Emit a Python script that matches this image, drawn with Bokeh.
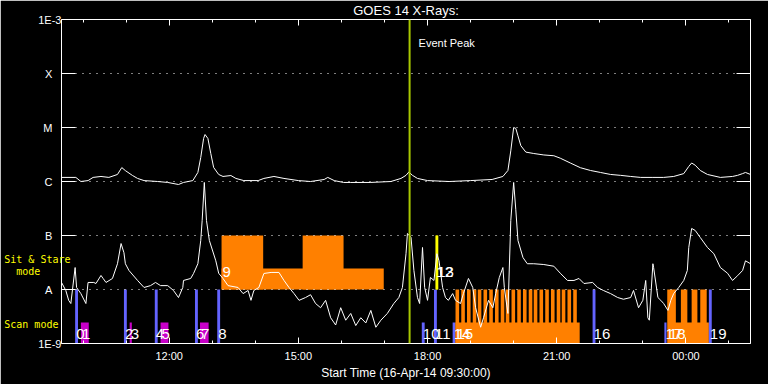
import pandas as pd
from bokeh.plotting import figure
from bokeh.models import Range1d, FixedTicker, LogAxis, DatetimeAxis, Span, Label, ColumnDataSource
from bokeh.core.properties import value
from bokeh.embed import file_html
from bokeh.resources import INLINE

START = pd.Timestamp("2014-04-16 09:30:00")
END = pd.Timestamp("2014-04-17 01:30:00")
EVENT_PEAK = pd.Timestamp("2014-04-16 17:35:00")

# ---- GOES 14 long channel (1-8 A), minutes after start, W m^-2
long_t = [0, 20, 27, 37, 44, 55, 66, 78, 84, 89,
          99, 106, 115, 134, 148, 163, 170, 183, 190, 194,
          198, 200, 204, 208, 212, 219, 225, 236, 243, 254,
          274, 282, 296, 310, 330, 347, 366, 371, 380, 393,
          403, 430, 459, 473, 480, 484, 489, 496, 510, 540,
          570, 600, 615, 622, 626, 630, 633, 636, 640, 647,
          658, 672, 686, 695, 709, 723, 737, 751, 765, 779,
          793, 807, 824, 839, 853, 867, 874, 878, 883, 890,
          900, 918, 935, 942, 949, 953, 960]
long_flux = [1.19e-6, 1.19e-6, 1.0e-6, 1.04e-6, 1.19e-6, 1.24e-6, 1.19e-6, 1.35e-6, 1.81e-6, 1.59e-6,
             1.29e-6, 1.14e-6, 1.04e-6, 1.0e-6, 0.96e-6, 0.88e-6, 0.96e-6, 1.04e-6, 1.47e-6, 2.78e-6,
             6.26e-6, 7.41e-6, 6.26e-6, 3.3e-6, 1.82e-6, 1.35e-6, 1.24e-6, 1.29e-6, 1.14e-6, 1.04e-6,
             1.04e-6, 1.14e-6, 1.24e-6, 1.14e-6, 1.04e-6, 1.0e-6, 1.09e-6, 1.19e-6, 1.04e-6, 0.96e-6,
             0.96e-6, 0.96e-6, 1.0e-6, 1.14e-6, 1.3e-6, 1.5e-6, 1.3e-6, 1.14e-6, 1.04e-6, 1.0e-6,
             1.04e-6, 1.09e-6, 1.24e-6, 1.6e-6, 3.7e-6, 1.0e-5, 9.6e-6, 7.0e-6, 4.6e-6, 3.5e-6,
             3.3e-6, 3.1e-6, 3.0e-6, 2.7e-6, 2.2e-6, 1.8e-6, 1.6e-6, 1.47e-6, 1.35e-6, 1.3e-6,
             1.24e-6, 1.19e-6, 1.19e-6, 1.19e-6, 1.24e-6, 1.4e-6, 1.9e-6, 2.2e-6, 2.0e-6, 1.6e-6,
             1.35e-6, 1.19e-6, 1.24e-6, 1.3e-6, 1.4e-6, 1.47e-6, 1.35e-6]

# ---- GOES 14 short channel (0.5-4 A), minutes after start, W m^-2
short_t = [0, 6, 10, 13, 19, 21, 27, 34, 37, 45,
           48, 55, 58, 62, 71, 78, 83, 87, 89, 94,
           106, 115, 124, 131, 138, 148, 156, 163, 169, 170,
           180, 184, 190, 194, 196, 199, 202, 206, 215, 219,
           225, 232, 246, 253, 260, 264, 268, 275, 282, 292,
           303, 310, 317, 324, 331, 340, 347, 354, 361, 368,
           375, 382, 389, 396, 403, 410, 417, 424, 431, 438,
           445, 454, 463, 470, 475, 480, 482, 487, 491, 496,
           499, 503, 506, 510, 514, 519, 523, 526, 531, 535,
           539, 545, 549, 556, 560, 567, 573, 577, 584, 588,
           595, 601, 605, 610, 615, 617, 622, 626, 630, 633,
           636, 643, 649, 658, 672, 686, 695, 705, 714, 721,
           728, 740, 747, 755, 765, 775, 783, 793, 797, 804,
           810, 814, 817, 819, 824, 825, 831, 835, 839, 845,
           849, 853, 860, 867, 872, 874, 878, 883, 890, 900,
           909, 918, 928, 935, 942, 949, 953, 960]
short_flux = [1.35e-8, 9.6e-9, 6.3e-9, 5.5e-9, 2.55e-8, 1.09e-8, 8.4e-9, 5.5e-9, 1.35e-8, 1.35e-8,
              1.29e-8, 1.82e-8, 1.6e-8, 1.35e-8, 1.6e-8, 3.0e-8, 7.1e-8, 4.8e-8, 3.0e-8, 2.25e-8,
              1.47e-8, 1.09e-8, 1.18e-8, 1.35e-8, 1.18e-8, 1.18e-8, 9.6e-9, 7.1e-9, 1.09e-8, 1.47e-8,
              1.6e-8, 1.98e-8, 3.0e-8, 8.1e-8, 1.9e-7, 9.6e-7, 1.9e-7, 8.1e-8, 3.4e-8, 2.0e-8,
              1.6e-8, 1.18e-8, 1.09e-8, 8.4e-9, 9.6e-9, 6.3e-9, 9.6e-9, 1.09e-8, 1.98e-8, 2.07e-8,
              2.07e-8, 1.47e-8, 1.09e-8, 8.4e-9, 6.3e-9, 7.1e-9, 8.0e-9, 5.5e-9, 4.6e-9, 6.3e-9,
              3.0e-9, 2.2e-9, 4.6e-9, 2.7e-9, 3.6e-9, 2.15e-9, 3.0e-9, 2.4e-9, 4.1e-9, 2.0e-9,
              2.7e-9, 3.6e-9, 5.5e-9, 7.1e-9, 1.09e-8, 4.6e-8, 1.09e-7, 9.2e-8, 2.25e-8, 7.1e-9,
              5.5e-9, 6.0e-8, 1.09e-8, 6.3e-9, 1.67e-8, 1.47e-8, 4.6e-8, 3.4e-8, 1.09e-8, 7.1e-9,
              6.3e-9, 8.4e-9, 6.3e-9, 5.5e-9, 8.4e-9, 1.6e-8, 1.09e-8, 4.6e-9, 2.0e-9, 3.0e-9,
              6.3e-9, 4.6e-9, 8.4e-9, 1.67e-8, 2.55e-8, 1.09e-8, 3.6e-9, 1.9e-7, 9.6e-7, 3.0e-7,
              8.1e-8, 3.9e-8, 3.0e-8, 3.0e-8, 2.9e-8, 2.7e-8, 2.0e-8, 1.47e-8, 1.47e-8, 1.6e-8,
              1.29e-8, 1.35e-8, 1.09e-8, 9.6e-9, 8.4e-9, 7.1e-9, 6.6e-9, 7.1e-9, 9.6e-9, 4.6e-9,
              6.3e-9, 1.47e-8, 3.0e-9, 2.7e-9, 3.0e-8, 2.55e-8, 7.1e-9, 6.3e-9, 5.5e-9, 4.1e-9,
              6.3e-9, 8.4e-9, 1.09e-8, 1.47e-8, 2.25e-8, 6.0e-8, 1.35e-7, 1.24e-7, 9.2e-8, 6.0e-8,
              4.6e-8, 2.55e-8, 2.0e-8, 1.47e-8, 1.8e-8, 2.25e-8, 3.4e-8, 3.0e-8]

# ---- GOES class levels / y tick labels
goes_levels = [1e-9, 1e-8, 1e-7, 1e-6, 1e-5, 1e-4, 1e-3]
goes_labels = ["1E-9", "A", "B", "C", "M", "X", "1E-3"]

# ---- instrument mode captions on the left margin (flux level of each line)
mode_levels = [3.6e-8, 2.15e-8, 2.25e-9]
mode_labels = ["Sit & Stare", "  mode", "Scan mode"]

# ---- x ticks
x_major_times = ["2014-04-16 12:00", "2014-04-16 15:00", "2014-04-16 18:00",
                 "2014-04-16 21:00", "2014-04-17 00:00"]
x_major_labels = ["12:00", "15:00", "18:00", "21:00", "00:00"]
x_minor_times = ["2014-04-16 10:00", "2014-04-16 11:00", "2014-04-16 13:00", "2014-04-16 14:00",
                 "2014-04-16 16:00", "2014-04-16 17:00", "2014-04-16 19:00", "2014-04-16 20:00",
                 "2014-04-16 22:00", "2014-04-16 23:00", "2014-04-17 01:00"]

# ---- observations (minutes after start)
obs_id = list(range(20))
obs_start = [19, 27, 87, 95, 130, 138, 186, 193, 217, 223, 502, 519, 521, 522, 545, 549, 740, 840, 845, 902]
obs_end = [23, 38, 91, 98, 134, 149, 190, 205, 221, 449, 506, 523, 524, 525, 549, 722, 744, 843, 902, 906]
obs_mode = ["scan", "scan", "scan", "scan", "scan", "scan", "scan", "scan", "scan", "sit",
            "scan", "scan", "sit", "sit", "scan", "scan", "scan", "scan", "scan", "scan"]
obs_height = ["full", "part", "full", "part", "full", "part", "full", "part", "full", "part",
              "part", "full", "full", "full", "part", "part", "full", "part", "part", "full"]
obs_class = ["blue", "magenta", "blue", "magenta", "blue", "magenta", "blue", "magenta", "blue", "orange",
             "blue", "blue", "yellow", "yellow", "blue", "orange", "blue", "blue", "orange", "blue"]

# full-height sub-intervals inside long observations (minutes after start)
burst_obs = [9, 9,
             15, 15, 15, 15, 15, 15, 15, 15, 15, 15, 15, 15, 15, 15, 15, 15, 15, 15, 15, 15, 15, 15,
             18, 18, 18, 18]
burst_start = [223, 336,
               549, 557, 565, 573, 580, 588, 596, 604, 612, 619, 627, 635, 643, 651, 658, 666,
               674, 682, 690, 697, 705, 713,
               844, 863, 878, 890]
burst_end = [281, 393,
             554, 562, 570, 578, 585, 593, 601, 609, 617, 624, 632, 640, 648, 656, 663, 671,
             679, 687, 695, 702, 710, 718,
             856, 872, 886, 899]

# ---------------------------------------------------------------- styling / layout
PALETTE = {"blue": "#6464ff", "magenta": "#c800c8", "orange": "#ff8000", "yellow": "#ffff00"}
BAND = {"scan": (1e-9, 1e-8), "sit": (1e-8, 1e-7)}
PART = 0.39           # partial bars reach this fraction of their decade
LABEL_Y = {"scan": 1.5e-9, "sit": 2.15e-8}
FONT = "Liberation Sans"
NBSP = "\u00a0"


def ms(ts):
    return pd.Timestamp(ts).value / 1e6


def after(minutes):
    return [ms(START + pd.Timedelta(minutes=m)) for m in minutes]


def top_of(mode, height):
    lo, hi = BAND[mode]
    return hi if height == "full" else lo * 10 ** PART


p = figure(width=768, height=384, x_axis_type="datetime", y_axis_type="log",
           x_range=Range1d(ms(START), ms(END)), y_range=Range1d(1e-9, 1e-3),
           output_backend="svg", toolbar_location=None,
           min_border_left=61, min_border_right=18, min_border_top=19, min_border_bottom=41,
           background_fill_color="black", border_fill_color="black", outline_line_color=None)

# title
p.title.text = "GOES 14 X-Rays:"
p.title.align = "center"
p.title.vertical_align = "middle"
p.title.text_color = "white"
p.title.text_font = FONT
p.title.text_font_size = "13px"
p.title.text_font_style = "normal"
p.title.standoff = 2

# bars
bar_src = ColumnDataSource(dict(
    left=after(obs_start), right=after(obs_end),
    bottom=[BAND[m][0] for m in obs_mode],
    top=[top_of(m, h) for m, h in zip(obs_mode, obs_height)],
    color=[PALETTE[c] for c in obs_class]))
p.quad(left="left", right="right", bottom="bottom", top="top", color="color", line_color=None, source=bar_src)

burst_src = ColumnDataSource(dict(
    left=after(burst_start), right=after(burst_end),
    bottom=[BAND[obs_mode[i]][0] for i in burst_obs],
    top=[BAND[obs_mode[i]][1] for i in burst_obs],
    color=[PALETTE[obs_class[i]] for i in burst_obs]))
p.quad(left="left", right="right", bottom="bottom", top="top", color="color", line_color=None, source=burst_src)

# curves
p.line(after(long_t), long_flux, line_color="white", line_width=1)
p.line(after(short_t), short_flux, line_color="white", line_width=1)

# observation numbers
num_src = ColumnDataSource(dict(x=after(obs_start), y=[LABEL_Y[m] for m in obs_mode],
                                text=[str(i) for i in obs_id]))
p.text(x="x", y="y", text="text", source=num_src, text_color="white", text_font=value(FONT),
       text_font_size="15px", text_align="left", text_baseline="middle", x_offset=1)

# event peak
p.add_layout(Span(location=ms(EVENT_PEAK), dimension="height", line_color="#a8c800", line_width=2))
p.add_layout(Label(x=ms(EVENT_PEAK), y=3.6e-4, x_offset=9, text="Event Peak", text_color="white",
                   text_font=FONT, text_font_size="11px", text_baseline="middle"))

# x axes
xa = p.xaxis[0]
xa.ticker = FixedTicker(ticks=[ms(t) for t in x_major_times], minor_ticks=[ms(t) for t in x_minor_times])
xa.major_label_overrides = {ms(t): lab for t, lab in zip(x_major_times, x_major_labels)}
xa.axis_label = "Start Time (16-Apr-14 09:30:00)"

top = DatetimeAxis(ticker=FixedTicker(ticks=[ms(t) for t in x_major_times],
                                      minor_ticks=[ms(t) for t in x_minor_times]),
                   major_label_standoff=0)
p.add_layout(top, "above")
for ax in (xa, top):
    ax.major_tick_in = 6
    ax.major_tick_out = 0
    ax.minor_tick_in = 3
    ax.minor_tick_out = 0

xa.major_label_standoff = 6
xa.axis_label_standoff = 1

# y axes
ya = p.yaxis[0]
ya.ticker = FixedTicker(ticks=goes_levels)
ya.major_label_overrides = {v: (lab if len(lab) > 1 else lab + NBSP * 3)
                            for v, lab in zip(goes_levels, goes_labels)}
ya.major_label_standoff = 0
right = LogAxis(ticker=FixedTicker(ticks=goes_levels), major_label_standoff=0)
p.add_layout(right, "right")
for ax in (ya, right):
    ax.major_tick_in = 14
    ax.major_tick_out = 0
    ax.minor_tick_line_color = None

for ax in (xa, top, ya, right):
    ax.axis_line_color = "white"
    ax.major_tick_line_color = "white"
    if ax in (xa, top):
        ax.minor_tick_line_color = "white"
    ax.major_label_text_color = "white"
    ax.major_label_text_font = FONT
    ax.axis_label_text_color = "white"
    ax.axis_label_text_font = FONT
    ax.axis_label_text_font_style = "normal"
    ax.axis_label_text_font_size = "12px"
    ax.major_label_text_font_size = "11px"
# the top and right frame axes carry ticks only
top.major_label_text_color = None
right.major_label_text_color = None

# yellow mode captions in the left margin (an outer, line-less axis)
width = max(len(s) for s in mode_labels)
mode_axis = LogAxis(ticker=FixedTicker(ticks=mode_levels),
                    major_label_overrides={v: s.ljust(width).replace(" ", NBSP)
                                           for v, s in zip(mode_levels, mode_labels)},
                    axis_line_color=None, major_tick_line_color=None, minor_tick_line_color=None,
                    major_tick_out=0, major_tick_in=0,
                    major_label_text_color="#ffff00", major_label_text_font="DejaVu Sans Mono",
                    major_label_text_font_size="10px", major_label_standoff=-35)
p.add_layout(mode_axis, "left")

p.xgrid.visible = False
p.ygrid.ticker = FixedTicker(ticks=goes_levels[1:-1])
p.ygrid.grid_line_color = "white"
p.ygrid.grid_line_dash = "1 6"
p.ygrid.grid_line_width = 1
p.ygrid.level = "guide"

open("out.html", "w").write(file_html(p, INLINE))
